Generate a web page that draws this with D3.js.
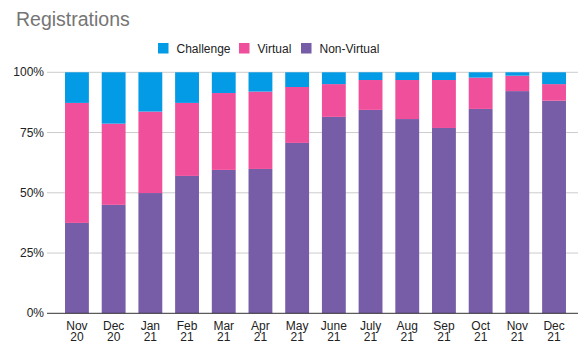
<!DOCTYPE html>
<html>
<head>
<meta charset="utf-8">
<script src="https://cdn.jsdelivr.net/npm/d3@7"></script>
<style>
  body { margin: 0; background: #fff; }
  svg { font-family: "Liberation Sans", Arial, sans-serif; }
</style>
</head>
<body>
<div class="chart"></div>
<script>
// months shown as two-line labels
const months = ["Nov 20", "Dec 20", "Jan 21", "Feb 21", "Mar 21", "Apr 21", "May 21",
  "June 21", "July 21", "Aug 21", "Sep 21", "Oct 21", "Nov 21", "Dec 21"];
// shares in percent
const nonVirtual = [37.5, 45.0, 49.9, 57.0, 59.5, 59.9, 70.7, 81.5, 84.4, 80.6, 76.9, 84.8, 92.2, 88.2];
const virtual    = [49.8, 33.7, 33.8, 30.3, 31.9, 32.1, 23.2, 13.6, 12.4, 16.2, 19.9, 13.0,  6.4,  6.9];
const challenge  = [12.7, 21.3, 16.3, 12.7,  8.6,  8.0,  6.1,  4.9,  3.2,  3.2,  3.2,  2.2,  1.4,  4.9];
const yTicks = [0, 25, 50, 75, 100];

const seriesNames = ["Non-Virtual", "Virtual", "Challenge"];
const legendOrder = ["Challenge", "Virtual", "Non-Virtual"];
const colors = {"Challenge": "#039be5", "Virtual": "#f0509b", "Non-Virtual": "#775ca8"};

const width = 585, height = 352;
const svg = d3.select('.chart').append('svg')
  .attr('width', width).attr('height', height);

const rows = months.map((m, i) => ({
  month: m, "Non-Virtual": nonVirtual[i], "Virtual": virtual[i], "Challenge": challenge[i]
}));
const stacked = d3.stack().keys(seriesNames)
  .offset(d3.stackOffsetExpand)(rows);

const gridLeft = 47, gridRight = 578;
const xScale = d3.scaleBand()
  .domain(months)
  .range([58.6, 572.4])
  .paddingInner(0.35)
  .paddingOuter(0.175);

const yScale = d3.scaleLinear()
  .domain([0, 1])
  .range([313.3, 72.3]);

// title
svg.append('text')
  .attr('x', 16).attr('y', 26)
  .attr('font-size', 19.5)
  .attr('fill', '#757575')
  .text('Registrations');

// grid lines
svg.append('g')
  .selectAll('line').data(yTicks.filter(t => t > 0))
  .join('line')
  .attr('x1', gridLeft).attr('x2', gridRight)
  .attr('y1', d => yScale(d / 100)).attr('y2', d => yScale(d / 100))
  .attr('stroke', '#cccccc').attr('stroke-width', 1);

// y labels
svg.append('g')
  .selectAll('text').data(yTicks)
  .join('text')
  .attr('x', 44).attr('y', d => yScale(d / 100) + 4)
  .attr('text-anchor', 'end')
  .attr('font-size', 12)
  .attr('fill', '#222')
  .text(d => d + '%');

// bars
svg.append('g')
  .selectAll('g').data(stacked)
  .join('g')
  .attr('fill', d => colors[d.key])
  .selectAll('rect').data(d => d)
  .join('rect')
  .attr('x', d => xScale(d.data.month))
  .attr('width', xScale.bandwidth())
  .attr('y', d => yScale(d[1]))
  .attr('height', d => yScale(d[0]) - yScale(d[1]));

// baseline
svg.append('line')
  .attr('x1', gridLeft).attr('x2', gridRight)
  .attr('y1', yScale(0)).attr('y2', yScale(0))
  .attr('stroke', '#333').attr('stroke-width', 1);

// x labels, two lines each
const xl = svg.append('g')
  .selectAll('text').data(months)
  .join('text')
  .attr('text-anchor', 'middle')
  .attr('font-size', 12)
  .attr('fill', '#222');
xl.append('tspan')
  .attr('x', d => xScale(d) + xScale.bandwidth() / 2).attr('y', 329.5)
  .text(d => d.split(' ')[0]);
xl.append('tspan')
  .attr('x', d => xScale(d) + xScale.bandwidth() / 2).attr('y', 340.5)
  .text(d => d.split(' ')[1]);

// legend
const legendX = [158, 239, 301];
const lg = svg.append('g')
  .selectAll('g').data(legendOrder)
  .join('g')
  .attr('transform', (d, i) => `translate(${legendX[i]},43)`);
lg.append('rect')
  .attr('width', 10.5).attr('height', 10.5)
  .attr('fill', d => colors[d]);
lg.append('text')
  .attr('x', 18.5).attr('y', 9.5)
  .attr('font-size', 12)
  .attr('fill', '#222')
  .text(d => d);
</script>
</body>
</html>
